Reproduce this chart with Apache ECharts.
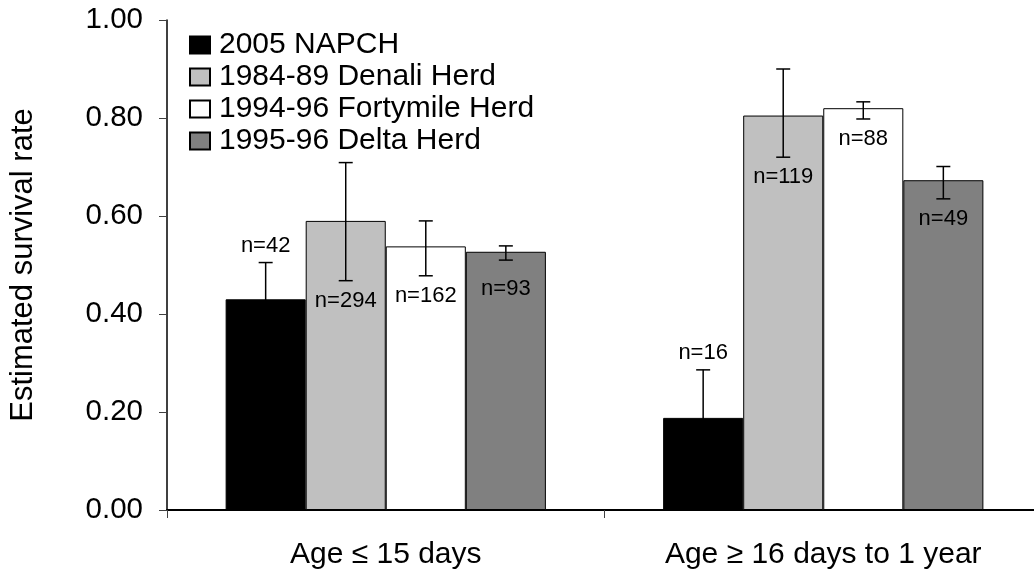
<!DOCTYPE html>
<html>
<head>
<meta charset="utf-8">
<script src="https://cdn.jsdelivr.net/npm/echarts@6/dist/echarts.min.js"></script>
<style>
html,body{margin:0;padding:0;background:#fff;}
#chart{width:1034px;height:573px;}
</style>
</head>
<body>
<div id="chart"></div>
<script>
// ---- data ----
const categories = ['Age ≤ 15 days', 'Age ≥ 16 days to 1 year'];
const seriesNames = ['2005 NAPCH', '1984-89 Denali Herd', '1994-96 Fortymile Herd', '1995-96 Delta Herd'];
const yTicks = [0, 0.2, 0.4, 0.6, 0.8, 1.0];

const napch = [0.430, 0.188];
const denali = [0.590, 0.805];
const fortymile = [0.538, 0.820];
const delta = [0.527, 0.673];

const napchLow = [0.355, 0.090];
const napchHigh = [0.505, 0.286];
const denaliLow = [0.468, 0.720];
const denaliHigh = [0.709, 0.900];
const fortymileLow = [0.478, 0.798];
const fortymileHigh = [0.590, 0.833];
const deltaLow = [0.510, 0.635];
const deltaHigh = [0.539, 0.701];

const napchN = [42, 16];
const denaliN = [294, 119];
const fortymileN = [162, 88];
const deltaN = [93, 49];

// ---- presentation ----
const values = [napch, denali, fortymile, delta];
const lows = [napchLow, denaliLow, fortymileLow, deltaLow];
const highs = [napchHigh, denaliHigh, fortymileHigh, deltaHigh];
const ns = [napchN, denaliN, fortymileN, deltaN];
const colors = ['#000000', '#c0c0c0', '#ffffff', '#808080'];
const labelAbove = [true, false, false, false];
const labelExtraShift = [[0, 0], [0, 0], [0, 0], [9, 0]];
const CAT_GAP = 0.268;
const FONT = '"Liberation Sans", Arial, Helvetica, sans-serif';

const chart = echarts.init(document.getElementById('chart'), null, {renderer: 'canvas'});

const series = [];
values.forEach((vals, si) => {
  series.push({
    name: seriesNames[si],
    type: 'bar',
    data: vals,
    barGap: '0%',
    barCategoryGap: (CAT_GAP * 100) + '%',
    itemStyle: {color: colors[si], borderColor: '#000', borderWidth: 1},
    emphasis: {disabled: true},
    z: 2
  });
});
values.forEach((vals, si) => {
  series.push({
    name: 'err' + si,
    type: 'custom',
    z: 5,
    silent: true,
    data: categories.map((c, ci) => [ci, lows[si][ci], highs[si][ci], ns[si][ci]]),
    renderItem: function (params, api) {
      const ci = api.value(0);
      const lo = api.coord([ci, api.value(1)]);
      const hi = api.coord([ci, api.value(2)]);
      const band = api.size([1, 0])[0];
      const bw = band * (1 - CAT_GAP) / 4;
      const x = lo[0] + (si - 1.5) * bw;
      const cap = 7;
      const lineStyle = {stroke: '#000', lineWidth: 1.5};
      const ly = labelAbove[si] ? hi[1] - 17 : lo[1] + 20 + labelExtraShift[si][ci];
      return {
        type: 'group',
        children: [
          {type: 'line', shape: {x1: x, y1: lo[1], x2: x, y2: hi[1]}, style: lineStyle},
          {type: 'line', shape: {x1: x - cap, y1: lo[1], x2: x + cap, y2: lo[1]}, style: lineStyle},
          {type: 'line', shape: {x1: x - cap, y1: hi[1], x2: x + cap, y2: hi[1]}, style: lineStyle},
          {type: 'text', x: x, y: ly, style: {text: 'n=' + api.value(3), fill: '#000', font: '22px ' + FONT, align: 'center', verticalAlign: 'middle'}}
        ]
      };
    }
  });
});

chart.setOption({
  animation: false,
  backgroundColor: '#fff',
  textStyle: {fontFamily: FONT, color: '#000'},
  grid: {left: 167, width: 875, top: 20, bottom: 63, containLabel: false, outerBoundsMode: 'none'},
  legend: {
    data: seriesNames,
    orient: 'vertical',
    left: 189,
    top: 30,
    itemWidth: 20,
    itemHeight: 17,
    itemGap: 2,
    padding: 0,
    icon: 'rect',
    selectedMode: false,
    textStyle: {fontSize: 30, color: '#000', fontFamily: FONT, padding: [0, 0, 0, 4]}
  },
  xAxis: {
    type: 'category',
    data: categories,
    axisLine: {lineStyle: {color: '#000', width: 2}},
    axisTick: {show: true, length: 8, lineStyle: {color: '#404040', width: 1}},
    axisLabel: {fontSize: 30, color: '#000', margin: 30, fontFamily: FONT},
    splitLine: {show: false}
  },
  yAxis: {
    type: 'value',
    min: yTicks[0],
    max: yTicks[yTicks.length - 1],
    interval: yTicks[1] - yTicks[0],
    name: 'Estimated survival rate',
    nameLocation: 'middle',
    nameGap: 128,
    nameTextStyle: {fontSize: 31, color: '#000', fontFamily: FONT},
    axisLine: {show: true, lineStyle: {color: '#000', width: 1.5}},
    axisTick: {show: true, length: 8, lineStyle: {color: '#404040', width: 1}},
    axisLabel: {fontSize: 29.5, color: '#000', margin: 24, fontFamily: FONT, formatter: v => v.toFixed(2)},
    splitLine: {show: false}
  },
  series: series
});
</script>
</body>
</html>
